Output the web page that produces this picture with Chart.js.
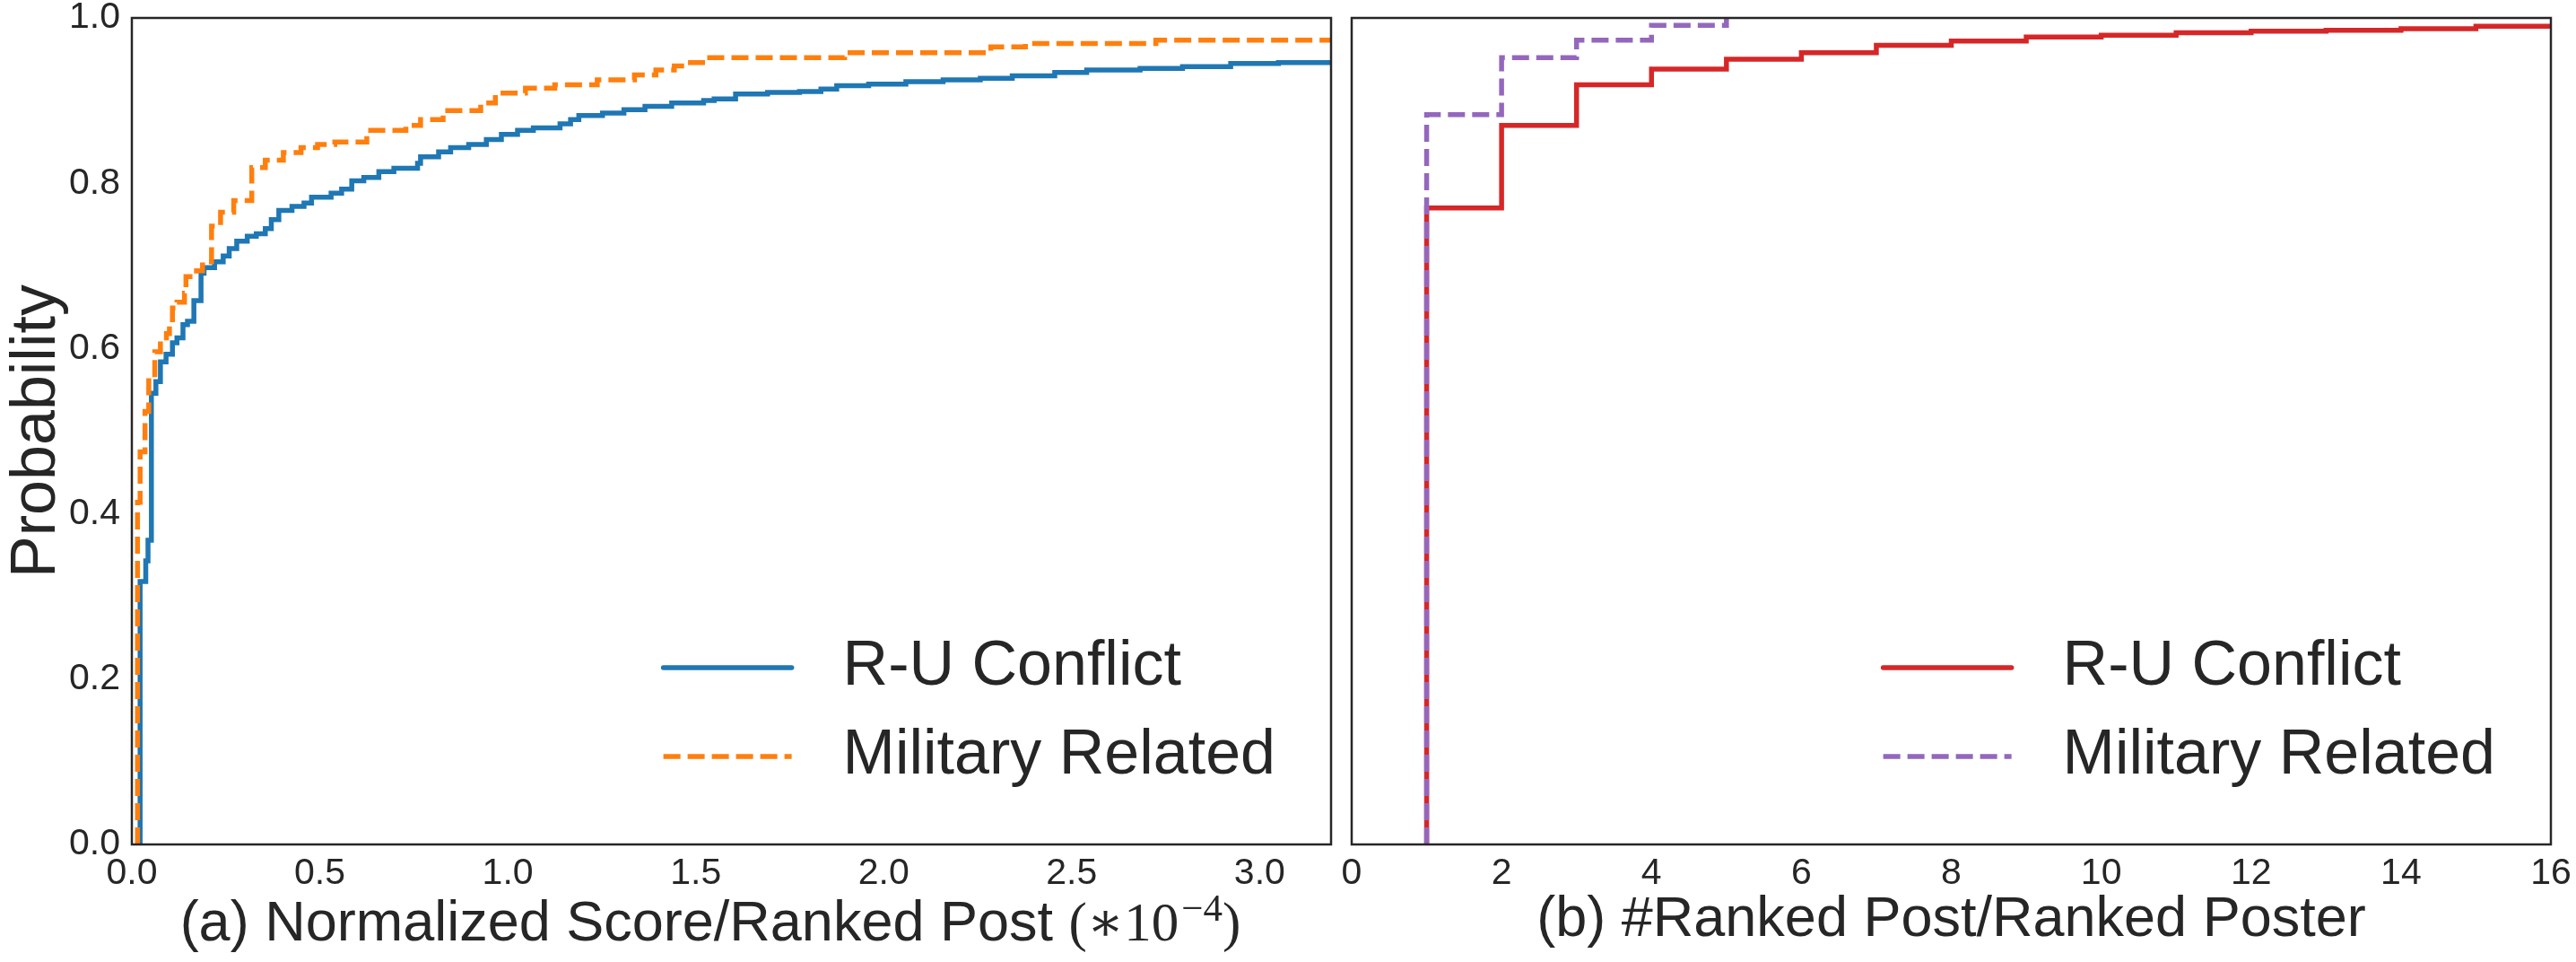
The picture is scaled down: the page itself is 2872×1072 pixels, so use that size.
<!DOCTYPE html>
<html>
<head>
<meta charset="utf-8">
<script src="https://cdn.jsdelivr.net/npm/chart.js@4.4.1/dist/chart.umd.min.js"></script>
<style>
  html, body { margin: 0; padding: 0; background: #fff; }
  #wrap { position: relative; width: 2872px; height: 1072px; }
  canvas { position: absolute; top: 0; }
</style>
</head>
<body>
<div id="wrap">
  <canvas id="scoreChart" width="1496" height="1072" style="left:0"></canvas>
  <canvas id="rankChart" width="1376" height="1072" style="left:1496px"></canvas>
</div>
<script>
const FONT = '"Liberation Sans", Arial, Helvetica, sans-serif';
const MATH_FONT = '"Liberation Serif", "DejaVu Serif", serif';
const INK = '#262626';

const SERIES_LABELS = ['R-U Conflict', 'Military Related'];

// (a) normalized score / ranked post, x in units of 1e-4 (ECDF jump points)
const SCORE_RU_X = [0.022, 0.022, 0.037, 0.043, 0.052, 0.064, 0.076, 0.091, 0.108, 0.120,
  0.136, 0.148, 0.165, 0.184, 0.192, 0.220, 0.243, 0.259, 0.279, 0.307,
  0.331, 0.355, 0.371, 0.391, 0.426, 0.458, 0.478, 0.530, 0.558, 0.585,
  0.617, 0.657, 0.697, 0.760, 0.768, 0.816, 0.848, 0.896, 0.943, 0.983,
  1.026, 1.068, 1.139, 1.167, 1.189, 1.252, 1.309, 1.365, 1.436, 1.521,
  1.549, 1.606, 1.691, 1.776, 1.833, 1.875, 1.960, 2.059, 2.158, 2.257,
  2.342, 2.455, 2.540, 2.682, 2.795, 2.923, 3.050, 3.190];
const SCORE_RU_P = [0, 0.318, 0.343, 0.368, 0.546, 0.560, 0.584, 0.593, 0.607, 0.613,
  0.629, 0.633, 0.658, 0.691, 0.698, 0.705, 0.712, 0.721, 0.730, 0.736,
  0.739, 0.745, 0.756, 0.767, 0.772, 0.776, 0.783, 0.788, 0.793, 0.803,
  0.807, 0.814, 0.818, 0.824, 0.832, 0.838, 0.843, 0.847, 0.853, 0.859,
  0.864, 0.867, 0.872, 0.877, 0.882, 0.885, 0.889, 0.893, 0.897, 0.900,
  0.902, 0.908, 0.910, 0.911, 0.914, 0.918, 0.920, 0.923, 0.925, 0.927,
  0.930, 0.934, 0.937, 0.939, 0.941, 0.945, 0.946, 0.949];

const SCORE_MIL_X = [0.015, 0.015, 0.022, 0.035, 0.045, 0.061, 0.076, 0.092, 0.100, 0.108,
  0.120, 0.140, 0.144, 0.172, 0.188, 0.212, 0.236, 0.271, 0.319, 0.355,
  0.403, 0.450, 0.494, 0.540, 0.625, 0.729, 0.768, 0.828, 0.928, 0.967,
  1.047, 1.125, 1.238, 1.337, 1.394, 1.443, 1.486, 1.528, 1.896, 2.285,
  2.377, 2.724, 3.190];
const SCORE_MIL_P = [0, 0.414, 0.475, 0.524, 0.564, 0.596, 0.609, 0.618, 0.629, 0.649,
  0.656, 0.667, 0.687, 0.694, 0.705, 0.748, 0.765, 0.779, 0.819, 0.828,
  0.837, 0.843, 0.847, 0.850, 0.864, 0.870, 0.877, 0.888, 0.897, 0.909,
  0.915, 0.919, 0.925, 0.931, 0.937, 0.942, 0.946, 0.952, 0.958, 0.965,
  0.969, 0.973, 0.973];

// (b) #ranked post / ranked poster
const RANK_RU_X = [1, 1, 2, 3, 4, 5, 6, 7, 8, 9, 10, 11, 12, 13, 14, 15, 16];
const RANK_RU_P = [0, 0.770, 0.870, 0.919, 0.938, 0.950, 0.958, 0.967, 0.972, 0.977,
  0.979, 0.982, 0.984, 0.985, 0.987, 0.990, 0.990];
const RANK_MIL_X = [1, 1, 2, 3, 4, 5];
const RANK_MIL_P = [0, 0.883, 0.952, 0.973, 0.991, 1.0];

const PROB_TICKS = [0, 0.2, 0.4, 0.6, 0.8, 1.0];
const SCORE_TICKS = [0, 0.5, 1.0, 1.5, 2.0, 2.5, 3.0];
const RANK_TICKS = [0, 2, 4, 6, 8, 10, 12, 14, 16];

const TITLE_A = ['(a) Normalized Score/Ranked Post ', '(\u221710', '\u22124', ')'];
const TITLE_B = '(b) #Ranked Post/Ranked Poster';

const LINE_W = 5.5;
const DASH = [19, 8];

function toPoints(xs, ys) {
  return xs.map((x, i) => ({ x: x, y: ys[i] }));
}

// matplotlib style box around the axes
const frame = {
  id: 'frame',
  afterDatasetsDraw(chart) {
    const { ctx, chartArea: a } = chart;
    ctx.save();
    ctx.strokeStyle = INK;
    ctx.lineWidth = 2.5;
    ctx.strokeRect(a.left, a.top, a.right - a.left, a.bottom - a.top);
    ctx.restore();
  }
};

// legend drawn inside the plot, lower right
const insideLegend = {
  id: 'insideLegend',
  afterDraw(chart) {
    const { ctx, chartArea: a } = chart;
    const sets = chart.data.datasets;
    ctx.save();
    ctx.font = '70px ' + FONT;
    const textW = Math.max(...sets.map(d => ctx.measureText(d.label).width));
    const textX = a.right - 62 - textW;
    sets.forEach((d, i) => {
      const y = a.bottom - 98 - (sets.length - 1 - i) * 99;
      ctx.strokeStyle = d.borderColor;
      ctx.lineWidth = d.borderWidth;
      ctx.setLineDash(d.borderDash || []);
      ctx.lineCap = d.borderDash ? 'butt' : 'round';
      ctx.beginPath();
      ctx.moveTo(textX - 200, y);
      ctx.lineTo(textX - 57, y);
      ctx.stroke();
      ctx.setLineDash([]);
      ctx.fillStyle = INK;
      ctx.textAlign = 'left';
      ctx.textBaseline = 'middle';
      ctx.fillText(d.label, textX, y);
    });
    ctx.restore();
  }
};

// x title of (a) with the mathtext part (*10^-4)
const mathTitle = {
  id: 'mathTitle',
  afterDraw(chart) {
    const { ctx, chartArea: a } = chart;
    const base = 1048;
    ctx.save();
    ctx.fillStyle = INK;
    ctx.textBaseline = 'alphabetic';
    ctx.textAlign = 'left';
    const fonts = ['63px ' + FONT, '61px ' + MATH_FONT, '43px ' + MATH_FONT, '61px ' + MATH_FONT];
    const lifts = [0, 0, 22, 0];
    const widths = TITLE_A.map((t, i) => { ctx.font = fonts[i]; return ctx.measureText(t).width; });
    const total = widths.reduce((s, w) => s + w, 0);
    let x = (a.left + a.right) / 2 - 25 - total / 2;
    TITLE_A.forEach((t, i) => {
      ctx.font = fonts[i];
      ctx.fillText(t, x, base - lifts[i]);
      x += widths[i] + (i === 1 ? 3 : 0);
    });
    ctx.restore();
  }
};

function tickFont() {
  return { family: FONT, size: 41 };
}

function xScale(max, ticks, fmt, title) {
  return {
    type: 'linear',
    min: 0,
    max: max,
    grid: { display: false },
    border: { display: false },
    ticks: { font: tickFont(), color: INK, padding: 0, maxRotation: 0, callback: fmt },
    afterBuildTicks: s => { s.ticks = ticks.map(v => ({ value: v })); },
    afterFit: s => { s.height = 131; s.paddingLeft = 0; s.paddingRight = 0; },
    title: title
      ? { display: true, text: title, color: INK, font: { family: FONT, size: 63 }, padding: { top: 0, bottom: 9 } }
      : { display: false }
  };
}

const common = {
  responsive: false,
  animation: false,
  devicePixelRatio: 1,
  elements: { point: { radius: 0 }, line: { tension: 0 } },
  plugins: { legend: { display: false }, tooltip: { enabled: false } }
};

new Chart(document.getElementById('scoreChart'), {
  type: 'line',
  data: {
    datasets: [
      { label: SERIES_LABELS[0], data: toPoints(SCORE_RU_X, SCORE_RU_P), borderColor: '#1f77b4',
        borderWidth: LINE_W, stepped: 'before', order: 2 },
      { label: SERIES_LABELS[1], data: toPoints(SCORE_MIL_X, SCORE_MIL_P), borderColor: '#ff7f0e',
        borderWidth: LINE_W, borderDash: DASH, stepped: 'before', order: 1 }
    ]
  },
  options: Object.assign({}, common, {
    layout: { padding: { top: 20, left: 0, right: 12, bottom: 0 } },
    scales: {
      x: xScale(3.19, SCORE_TICKS, v => v.toFixed(1), null),
      y: {
        min: 0,
        max: 1,
        grid: { display: false },
        border: { display: false },
        ticks: { font: tickFont(), color: INK, padding: 5, callback: v => v.toFixed(1) },
        afterBuildTicks: s => { s.ticks = PROB_TICKS.map(v => ({ value: v })); },
        afterFit: s => { s.width = 147; s.paddingTop = 0; s.paddingBottom = 0; },
        title: { display: true, text: 'Probability', color: INK, font: { family: FONT, size: 70 }, padding: { top: 0, bottom: 0 } }
      }
    }
  }),
  plugins: [frame, insideLegend, mathTitle]
});

new Chart(document.getElementById('rankChart'), {
  type: 'line',
  data: {
    datasets: [
      { label: SERIES_LABELS[0], data: toPoints(RANK_RU_X, RANK_RU_P), borderColor: '#d62728',
        borderWidth: LINE_W, stepped: 'before', order: 2 },
      { label: SERIES_LABELS[1], data: toPoints(RANK_MIL_X, RANK_MIL_P), borderColor: '#9467bd',
        borderWidth: LINE_W, borderDash: DASH, stepped: 'before', order: 1 }
    ]
  },
  options: Object.assign({}, common, {
    layout: { padding: { top: 20, left: 11, right: 28, bottom: 0 } },
    scales: {
      x: xScale(16, RANK_TICKS, v => String(v), TITLE_B),
      y: {
        min: 0,
        max: 1,
        grid: { display: false },
        border: { display: false },
        ticks: { display: false },
        afterFit: s => { s.width = 0; s.paddingTop = 0; s.paddingBottom = 0; }
      }
    }
  }),
  plugins: [frame, insideLegend]
});
</script>
</body>
</html>
